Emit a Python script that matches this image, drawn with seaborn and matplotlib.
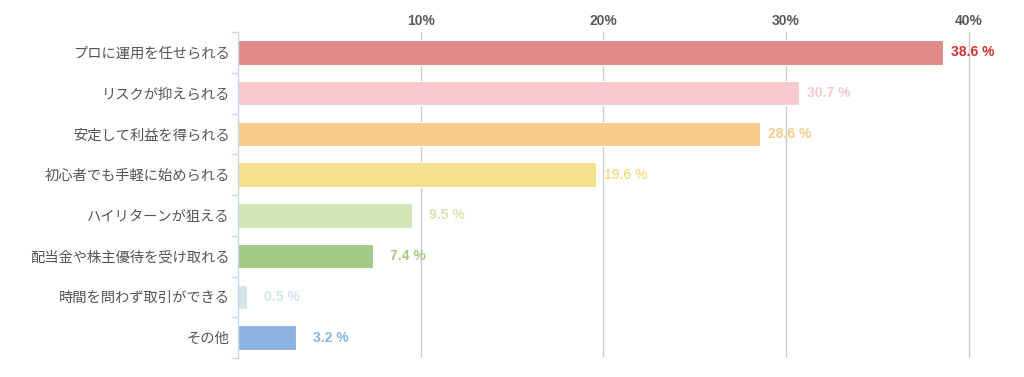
import matplotlib
matplotlib.use("Agg")
import matplotlib.pyplot as plt
import seaborn as sns
import numpy as np
import pandas as pd

categories = ["プロに運用を任せられる", "リスクが抑えられる", "安定して利益を得られる",
              "初心者でも手軽に始められる", "ハイリターンが狙える", "配当金や株主優待を受け取れる",
              "時間を問わず取引ができる", "その他"]
values = [38.6, 30.7, 28.6, 19.6, 9.5, 7.4, 0.5, 3.2]
bar_colors = ["#e08a8b", "#f7cbcd", "#f7cc8a", "#f5e08c", "#d3e6b5", "#a3ca85", "#d2e6ea", "#8cb3e0"]
label_colors = ["#d0312d", "#f7cbcd", "#f7cc8a", "#f5e08c", "#d3e6b5", "#a3ca85", "#d2e6ea", "#8cb3e0"]
xticks = [10, 20, 30, 40]
xtick_labels = ["10%", "20%", "30%", "40%"]

sns.set_theme(style="white")
plt.rcParams['font.family'] = ['Noto Sans CJK JP', 'DejaVu Sans']

df = pd.DataFrame({"cat": categories, "val": values})
fig = plt.figure(figsize=(10.24, 3.77), dpi=100)
ax = fig.add_axes([238/1024, 1 - 358/377, (985-238)/1024, (358-32)/377])

sns.barplot(data=df, x="val", y="cat", hue="cat", palette=bar_colors, legend=False,
            width=0.6, ax=ax, edgecolor="white", linewidth=0.8, saturation=1)

ax.set_xlim(0, 40.9)
ax.set_ylim(len(categories) - 0.5, -0.5)
ax.set_xlabel("")
ax.set_ylabel("")
ax.set_axisbelow(True)
ax.xaxis.tick_top()
ax.set_xticks(xticks)
ax.set_xticklabels(xtick_labels, fontsize=10, fontweight="bold", color="#5a5a5a",
                   family=["Liberation Sans"])
ax.tick_params(axis="x", length=0, pad=3)
ax.grid(axis="x", color="#cccccc", linewidth=1)
for s in ["top", "right", "bottom"]:
    ax.spines[s].set_visible(False)
ax.spines["left"].set_color("#c8d6ea")
ax.spines["left"].set_linewidth(1)

ax.set_yticks(range(len(categories)))
ax.set_yticklabels(categories, fontsize=10.3, color="#555555")
ax.tick_params(axis="y", which="major", length=0, pad=6)
ax.set_yticks(np.arange(-0.5, len(categories), 1), minor=True)
ax.tick_params(axis="y", which="minor", length=5, color="#c8d6ea", width=1, left=True)

for i, (v, c) in enumerate(zip(values, label_colors)):
    off = 8 if v >= 10 else 17
    ax.annotate(f"{v} %", xy=(v, i), xytext=(off, 0), textcoords="offset pixels",
                va="center", ha="left", fontsize=10, fontweight="bold", color=c,
                family=["Liberation Sans"])

fig.savefig("out.png", dpi=100)
